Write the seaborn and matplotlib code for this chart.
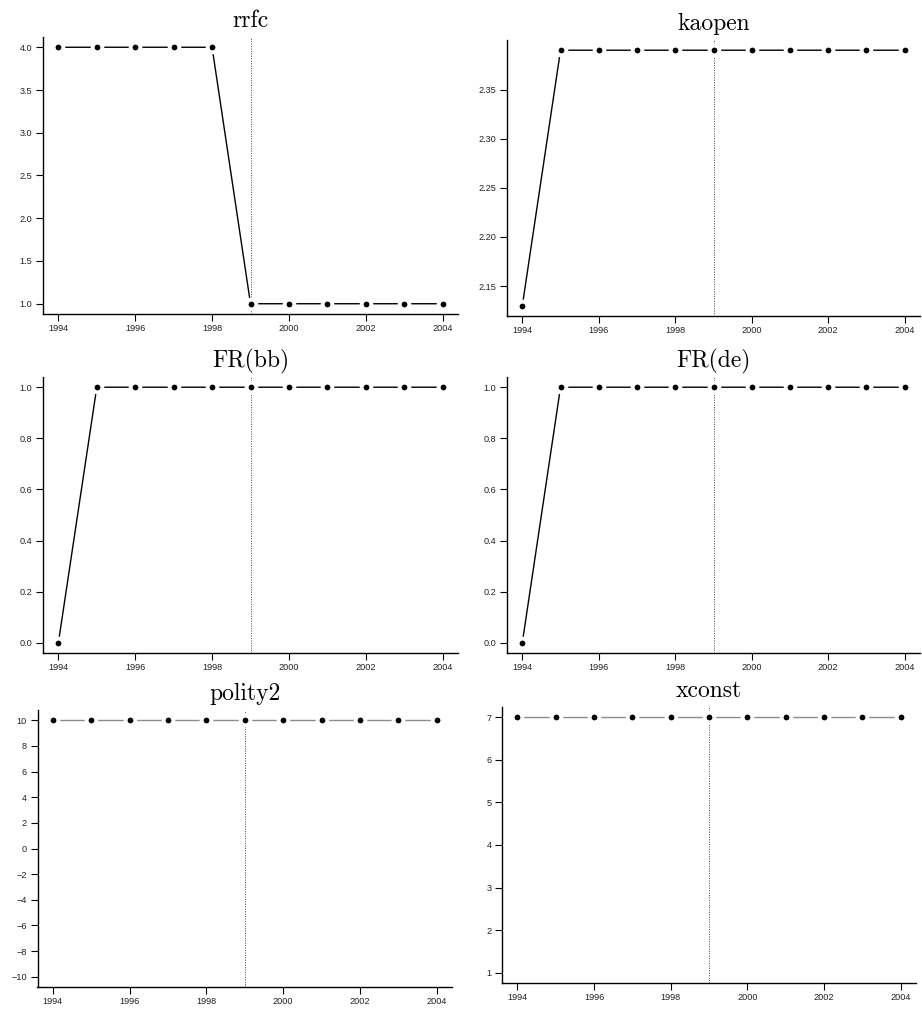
import numpy as np
import pandas as pd
import matplotlib
matplotlib.use("Agg")
import matplotlib.pyplot as plt
import seaborn as sns

# Data
years = list(range(1994, 2005))
rrfc = [4, 4, 4, 4, 4, 1, 1, 1, 1, 1, 1]
kaopen = [2.13, 2.39, 2.39, 2.39, 2.39, 2.39, 2.39, 2.39, 2.39, 2.39, 2.39]
fr_bb = [0, 1, 1, 1, 1, 1, 1, 1, 1, 1, 1]
fr_de = [0, 1, 1, 1, 1, 1, 1, 1, 1, 1, 1]
polity2 = [10] * 11
xconst = [7] * 11

titles = ["rrfc", "kaopen", "FR(bb)", "FR(de)", "polity2", "xconst"]
series = [rrfc, kaopen, fr_bb, fr_de, polity2, xconst]
line_colors = ["black", "black", "black", "black", "#8c8c8c", "#8c8c8c"]
ylims = [(1, 4), (2.13, 2.39), (0, 1), (0, 1), (-10, 10), (1, 7)]
yticks = [
    [1.0, 1.5, 2.0, 2.5, 3.0, 3.5, 4.0],
    [2.15, 2.20, 2.25, 2.30, 2.35],
    [0.0, 0.2, 0.4, 0.6, 0.8, 1.0],
    [0.0, 0.2, 0.4, 0.6, 0.8, 1.0],
    [-10, -8, -6, -4, -2, 0, 2, 4, 6, 8, 10],
    [1, 2, 3, 4, 5, 6, 7],
]
yfmt = ["%.1f", "%.2f", "%.1f", "%.1f", "%d", "%d"]
xticks = [1994, 1996, 1998, 2000, 2002, 2004]
event_year = 1999

sns.set_style("white")
plt.rcParams["font.family"] = ["Liberation Sans", "DejaVu Sans"]

W, H = 922, 1009
fig = plt.figure(figsize=(W / 100, H / 100), dpi=100)

# axes boxes in pixels: left, right, top, bottom
boxes = [
    (43, 458, 37, 314),
    (507, 920, 40, 316),
    (43, 458, 377, 653),
    (507, 920, 377, 653),
    (37.5, 452, 710, 987),
    (502, 916, 707, 983),
]

for i in range(6):
    l, r, t, b = boxes[i]
    ax = fig.add_axes([l / W, 1 - b / H, (r - l) / W, (b - t) / H])
    df = pd.DataFrame({"year": years, "value": series[i]})
    sns.lineplot(
        data=df, x="year", y="value", ax=ax,
        color=line_colors[i], linewidth=1.0,
        marker="o", markersize=7, markerfacecolor="black",
        markeredgecolor="white", markeredgewidth=2.8,
        zorder=3,
    )
    ax.axvline(event_year, color="#444444", linestyle=(0, (1, 1.5)),
               linewidth=0.7, zorder=2)

    lo, hi = ylims[i]
    pad = (hi - lo) * 0.04
    ax.set_ylim(lo - pad, hi + pad)
    ax.set_xlim(1993.6, 2004.4)
    ax.set_xticks(xticks)
    ax.set_yticks(yticks[i])
    ax.set_yticklabels([(yfmt[i] % v).replace("-", "\u2212") for v in yticks[i]])
    ax.set_xlabel("")
    ax.set_ylabel("")
    ax.tick_params(axis="both", direction="out", length=5, width=0.8,
                   labelsize=6.6, color="black", labelcolor="#222222",
                   pad=2.5, left=True, bottom=True)

    sns.despine(ax=ax)
    ax.spines["left"].set_linewidth(1.0)
    ax.spines["bottom"].set_linewidth(1.0)
    ax.spines["left"].set_color("black")
    ax.spines["bottom"].set_color("black")
    ax.set_title(titles[i], fontfamily="cmr10", fontsize=17, pad=7, color="black")

fig.savefig("out.png", dpi=100)
